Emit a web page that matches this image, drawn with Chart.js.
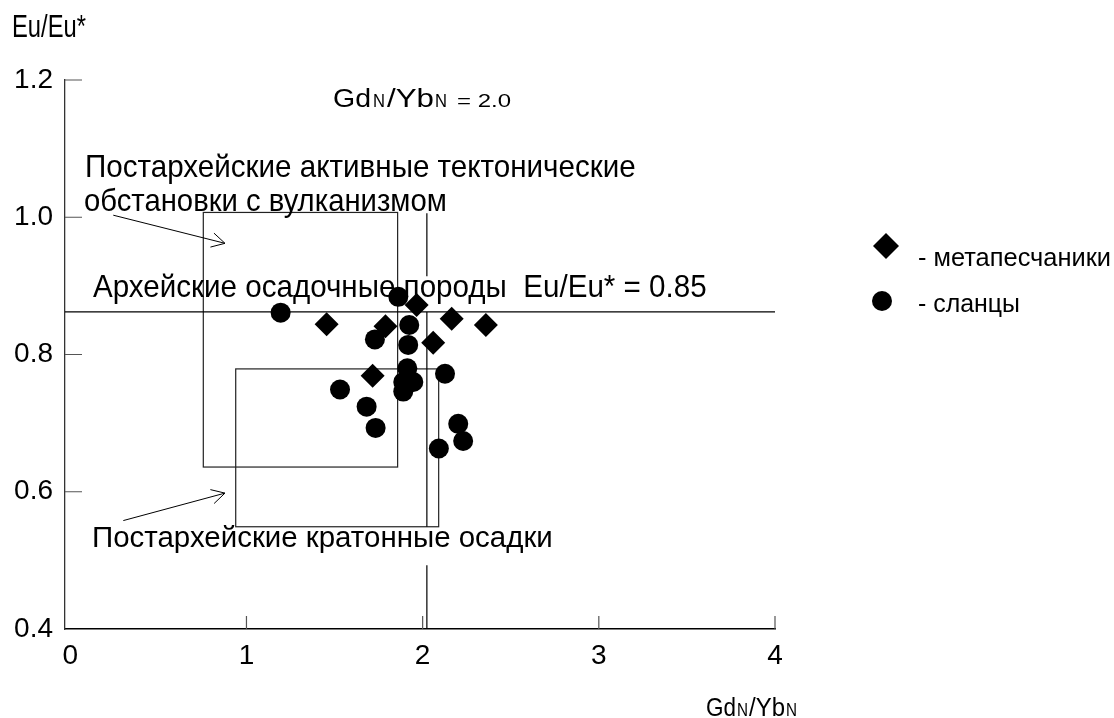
<!DOCTYPE html>
<html><head><meta charset="utf-8">
<script src="https://cdn.jsdelivr.net/npm/chart.js@4.4.0/dist/chart.umd.min.js"></script>
<style>html,body{margin:0;padding:0;background:#fff;}#wrap{width:1114px;height:718px;}</style>
</head><body><div id="wrap"><canvas id="c" width="1114" height="718"></canvas></div>
<script>
// ---- data ----
const metasandstoneX = [1.455, 1.789, 1.966, 2.165, 2.359, 2.060, 1.716];
const metasandstoneY = [0.844, 0.841, 0.872, 0.852, 0.843, 0.817, 0.769];
const shaleX = [1.194, 1.862, 1.924, 1.918, 1.913, 1.890, 1.947, 1.890, 2.127, 1.531, 1.682, 1.733, 2.202, 2.230, 2.092, 1.729];
const shaleY = [0.861, 0.884, 0.843, 0.814, 0.780, 0.760, 0.760, 0.746, 0.772, 0.749, 0.724, 0.693, 0.699, 0.674, 0.663, 0.822];
const seriesLabels = ['- метапесчаники', '- сланцы'];
const xTicks = [0, 1, 2, 3, 4];
const yTicks = [0.4, 0.6, 0.8, 1.0, 1.2];
// fields (x1, x2, y1, y2 in data units)
const activeBox = [0.755, 1.858, 0.636, 1.007];
const cratonBox = [0.939, 2.091, 0.549, 0.779];
const archeanEuLine = 0.862;
const gdYbLineX = 2.024;
const gdYbSegments = [[1.006, 0.914], [0.862, 0.549], [0.493, 0.4]];
// arrows: [fromX, fromY, toX, toY]
const arrowActive = [0.244, 1.003, 0.878, 0.962];
const arrowCraton = [0.301, 0.558, 0.878, 0.598];

const FAM = '"Liberation Sans", Arial, sans-serif';

function fitText(ctx, str, left, base, width, cap) {
  ctx.save();
  ctx.font = '100px ' + FAM;
  const w = ctx.measureText(str).width;
  const size = 100 * width / w;
  ctx.font = size + 'px ' + FAM;
  const sy = cap / (0.716 * size);
  ctx.translate(left, base);
  ctx.scale(1, sy);
  ctx.textAlign = 'left';
  ctx.textBaseline = 'alphabetic';
  ctx.fillStyle = '#000';
  ctx.fillText(str, 0, 0);
  ctx.restore();
}

function arrow(ctx, x1, y1, x2, y2) {
  ctx.beginPath();
  ctx.moveTo(x1, y1); ctx.lineTo(x2, y2);
  const a = Math.atan2(y2 - y1, x2 - x1);
  const L = 15, h = 0.5;
  ctx.moveTo(x2 - L * Math.cos(a - h), y2 - L * Math.sin(a - h));
  ctx.lineTo(x2, y2);
  ctx.lineTo(x2 - L * Math.cos(a + h), y2 - L * Math.sin(a + h));
  ctx.stroke();
}

const decorations = {
  id: 'decorations',
  beforeDatasetsDraw(chart) {
    const ctx = chart.ctx, xs = chart.scales.x, ys = chart.scales.y;
    const X = v => xs.getPixelForValue(v), Y = v => ys.getPixelForValue(v);
    const ca = chart.chartArea;
    ctx.save();
    // tick marks (inside)
    ctx.strokeStyle = '#555'; ctx.lineWidth = 1.2;
    ctx.beginPath();
    xTicks.slice(1).forEach(v => { ctx.moveTo(X(v), ca.bottom); ctx.lineTo(X(v), ca.bottom - 13); });
    yTicks.slice(1).forEach(v => { ctx.moveTo(ca.left, Y(v)); ctx.lineTo(ca.left + 17, Y(v)); });
    ctx.stroke();
    // boxes
    ctx.strokeStyle = '#222'; ctx.lineWidth = 1.2;
    [activeBox, cratonBox].forEach(b => {
      ctx.strokeRect(X(b[0]), Y(b[3]), X(b[1]) - X(b[0]), Y(b[2]) - Y(b[3]));
    });
    // Archean line
    ctx.strokeStyle = '#000'; ctx.lineWidth = 1.2;
    ctx.beginPath();
    ctx.moveTo(ca.left, Y(archeanEuLine)); ctx.lineTo(ca.right, Y(archeanEuLine));
    ctx.stroke();
    // Gd/Yb = 2.0 line
    ctx.beginPath();
    gdYbSegments.forEach(s => { ctx.moveTo(X(gdYbLineX), Y(s[0])); ctx.lineTo(X(gdYbLineX), Y(s[1])); });
    ctx.stroke();
    // arrows
    ctx.lineWidth = 1;
    [arrowActive, arrowCraton].forEach(a => arrow(ctx, X(a[0]), Y(a[1]), X(a[2]), Y(a[3])));
    ctx.restore();
  },
  afterDraw(chart) {
    const ctx = chart.ctx;
    // texts
    fitText(ctx, 'Eu/Eu*', 12, 37, 74, 23);
    fitText(ctx, 'Gd', 333, 107, 38, 19);
    fitText(ctx, 'N', 373, 107, 12, 13);
    fitText(ctx, '/Yb', 387, 107, 47, 19);
    fitText(ctx, 'N', 435, 107, 12, 13);
    fitText(ctx, '= 2.0', 457, 107, 54, 13);
    fitText(ctx, 'Постархейские активные тектонические', 85, 177, 551, 22);
    fitText(ctx, 'обстановки с вулканизмом', 84, 211, 363, 22);
    fitText(ctx, 'Архейские осадочные породы  Eu/Eu* = 0.85', 93, 297, 614, 22);
    fitText(ctx, 'Постархейские кратонные осадки', 92, 547, 461, 21);
    // x title
    fitText(ctx, 'Gd', 706, 716, 30, 19);
    fitText(ctx, 'N', 737, 716, 11, 13);
    fitText(ctx, '/Yb', 749, 716, 36, 19);
    fitText(ctx, 'N', 786, 716, 11, 13);
    // legend
    const ds = chart.data.datasets;
    ctx.save();
    ctx.fillStyle = '#000';
    ctx.beginPath();
    const dx = 886, dy = 246, r = 13;
    ctx.moveTo(dx, dy - r); ctx.lineTo(dx + r, dy); ctx.lineTo(dx, dy + r); ctx.lineTo(dx - r, dy); ctx.closePath();
    ctx.fill();
    ctx.beginPath(); ctx.arc(882, 301, 10, 0, Math.PI * 2); ctx.fill();
    ctx.restore();
    fitText(ctx, ds[0].label, 918, 266, 193, 18);
    fitText(ctx, ds[1].label, 918, 312, 102, 18);
  }
};

new Chart(document.getElementById('c'), {
  type: 'scatter',
  data: {
    datasets: [
      { label: seriesLabels[0], data: metasandstoneX.map((x, i) => ({ x, y: metasandstoneY[i] })),
        pointStyle: 'rectRot', pointRadius: 12, pointHoverRadius: 12, backgroundColor: '#000', borderColor: '#000', borderWidth: 0 },
      { label: seriesLabels[1], data: shaleX.map((x, i) => ({ x, y: shaleY[i] })),
        pointStyle: 'circle', pointRadius: 10, pointHoverRadius: 10, backgroundColor: '#000', borderColor: '#000', borderWidth: 0 }
    ]
  },
  options: {
    responsive: false, animation: false, devicePixelRatio: 1,
    layout: { padding: { top: 80, right: 339, left: 0, bottom: 0 } },
    plugins: { legend: { display: false }, tooltip: { enabled: false } },
    scales: {
      x: {
        type: 'linear', min: -0.03, max: 4,
        afterBuildTicks: s => { s.ticks = xTicks.map(v => ({ value: v })); },
        afterFit: s => { s.height = 89; },
        grid: { display: false, drawTicks: false },
        border: { display: true, color: '#000', width: 1.5 },
        ticks: { color: '#000', padding: 10, font: { family: FAM, size: 28 }, callback: v => String(v) }
      },
      y: {
        type: 'linear', min: 0.4, max: 1.2,
        afterBuildTicks: s => { s.ticks = yTicks.map(v => ({ value: v })); },
        afterFit: s => { s.width = 65; },
        grid: { display: false, drawTicks: false },
        border: { display: true, color: '#333', width: 1.3 },
        ticks: { color: '#000', padding: 12, font: { family: FAM, size: 28 }, callback: v => v.toFixed(1) }
      }
    }
  },
  plugins: [decorations]
});
</script></body></html>
